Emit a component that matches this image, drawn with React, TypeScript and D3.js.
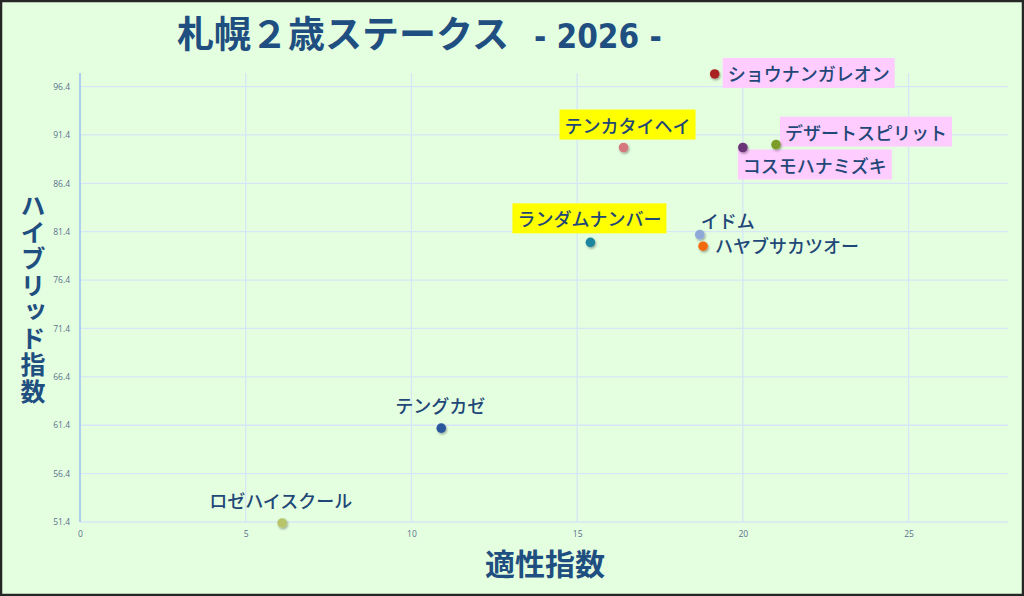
import { useEffect, useRef } from "react"
import * as d3 from "d3"

const horseNames = [
  "ショウナンガレオン",
  "デザートスピリット",
  "コスモハナミズキ",
  "テンカタイヘイ",
  "ランダムナンバー",
  "イドム",
  "ハヤブサカツオー",
  "テングカゼ",
  "ロゼハイスクール",
]
const tekiseiValues = [19.15, 21.0, 20.0, 16.4, 15.4, 18.7, 18.8, 10.9, 6.1]
const hybridValues = [97.7, 90.4, 90.1, 90.1, 80.3, 81.1, 79.9, 61.1, 51.3]
const dotColors = ["#a82422", "#7e9c2c", "#6a3578", "#d5787e", "#1f86a0", "#8ea8d8", "#f26a0f", "#2b579e", "#b8c46a"]
// label highlight: 0 none, 1 yellow, 2 pink
const labelMarks = [2, 2, 2, 1, 1, 0, 0, 0, 0]
const xTicks = [0, 5, 10, 15, 20, 25]
const yTicks = [51.4, 56.4, 61.4, 66.4, 71.4, 76.4, 81.4, 86.4, 91.4, 96.4]

// label offsets relative to each dot (dx from dot, dy = baseline from dot)
const labelDx = [13, 9, 0, -59, -73, 1, 12, -46, -73]
const labelDy = [7, -5, 25, -15, -16, -7, 7, -15, -15]

const App = () => {
  const svgRef = useRef<SVGSVGElement>(null)

  useEffect(() => {
    const width = 1024
    const height = 596
    const margin = { left: 80, right: 16, top: 73, bottom: 74 }
    const svg = d3.select(svgRef.current)
    svg.selectAll("*").remove()

    svg.append("rect")
      .attr("x", 1).attr("y", 1)
      .attr("width", width - 2).attr("height", height - 2)
      .attr("fill", "#e4ffe0")
      .attr("stroke", "#262626")
      .attr("stroke-width", 2.5)

    const xScale = d3.scaleLinear().domain([0, 28]).range([margin.left, width - margin.right])
    const yScale = d3.scaleLinear().domain([51.4, 97.8]).range([height - margin.bottom, margin.top])

    const grid = svg.append("g")
    grid.selectAll(".hg").data(yTicks).join("line")
      .attr("x1", xScale(0)).attr("x2", xScale(28))
      .attr("y1", d => yScale(d)).attr("y2", d => yScale(d))
      .attr("stroke", "#d6e6f6").attr("stroke-width", 1.3)
    grid.selectAll(".vg").data(xTicks.slice(1)).join("line")
      .attr("x1", d => xScale(d)).attr("x2", d => xScale(d))
      .attr("y1", yScale(97.8)).attr("y2", yScale(51.4))
      .attr("stroke", "#d6e6f6").attr("stroke-width", 1.3)

    // y axis line
    svg.append("line")
      .attr("x1", xScale(0)).attr("x2", xScale(0))
      .attr("y1", yScale(97.8)).attr("y2", yScale(51.4))
      .attr("stroke", "#9cc0f0").attr("stroke-width", 1.5)

    const yAxis = d3.axisLeft(yScale).tickValues(yTicks).tickSize(0).tickPadding(10)
      .tickFormat(d => (d as number).toFixed(1))
    const gy = svg.append("g").attr("transform", `translate(${xScale(0)},0)`).call(yAxis)
    gy.select(".domain").remove()
    gy.selectAll("text").attr("fill", "#5b6f8c").attr("font-size", 8.5)
      .attr("font-family", "'Open Sans', sans-serif")

    const xAxis = d3.axisBottom(xScale).tickValues(xTicks).tickSize(0).tickPadding(9)
    const gx = svg.append("g").attr("transform", `translate(0,${yScale(51.4)})`).call(xAxis)
    gx.select(".domain").remove()
    gx.selectAll("text").attr("fill", "#5b6f8c").attr("font-size", 8.5)
      .attr("font-family", "'Open Sans', sans-serif")

    const defs = svg.append("defs")
    const filter = defs.append("filter").attr("id", "sh").attr("x", "-50%").attr("y", "-50%")
      .attr("width", "200%").attr("height", "200%")
    filter.append("feDropShadow").attr("dx", 1).attr("dy", 1.5).attr("stdDeviation", 1.2)
      .attr("flood-color", "#000").attr("flood-opacity", 0.35)

    const idx = d3.range(horseNames.length)
    const fontFam = "'Noto Sans CJK JP', sans-serif"

    const labels = svg.append("g")
    idx.forEach(i => {
      const x = xScale(tekiseiValues[i]) + labelDx[i]
      const y = yScale(hybridValues[i]) + labelDy[i]
      const g = labels.append("g")
      const t = g.append("text")
        .attr("x", x).attr("y", y)
        .attr("font-family", fontFam)
        .attr("font-size", 18)
        .attr("font-weight", 500)
        .attr("fill", "#1f4777")
        .text(horseNames[i])
      if (labelMarks[i] > 0) {
        const bb = (t.node() as SVGTextElement).getBBox()
        g.insert("rect", "text")
          .attr("x", bb.x - 5).attr("y", bb.y - 2)
          .attr("width", bb.width + 10).attr("height", bb.height + 4)
          .attr("fill", labelMarks[i] === 1 ? "#ffff00" : "#ffccff")
      }
    })

    svg.append("g").selectAll("circle").data(idx).join("circle")
      .attr("cx", i => xScale(tekiseiValues[i]))
      .attr("cy", i => yScale(hybridValues[i]))
      .attr("r", 4.8)
      .attr("fill", i => dotColors[i])
      .attr("filter", "url(#sh)")

    // title
    const title = svg.append("text").attr("x", 177).attr("y", 48)
      .attr("fill", "#1f4e80").attr("font-weight", 700)
    title.append("tspan").attr("font-family", fontFam).attr("font-size", 37).text("札幌２歳ステークス")
    title.append("tspan").attr("dx", 25).attr("font-family", "'DejaVu Sans Condensed', 'DejaVu Sans', sans-serif")
      .attr("font-size", 33).text("- 2026 -")

    svg.append("text")
      .attr("x", 545).attr("y", 575)
      .attr("text-anchor", "middle")
      .attr("font-family", fontFam).attr("font-size", 30).attr("font-weight", 700)
      .attr("fill", "#1f4e80")
      .text("適性指数")

    svg.append("text")
      .attr("x", 33)
      .attr("y", 299)
      .attr("text-anchor", "middle")
      .style("writing-mode", "vertical-rl")
      .style("text-orientation", "upright")
      .attr("letter-spacing", 1.5)
      .attr("font-family", fontFam).attr("font-size", 25).attr("font-weight", 700)
      .attr("fill", "#1f4e80")
      .text("ハイブリッド指数")
  }, [])

  return (
    <div style={{ position: "fixed", left: 0, top: 0 }}>
      <svg ref={svgRef} width={1024} height={596} style={{ display: "block" }}></svg>
    </div>
  )
}

export default App
